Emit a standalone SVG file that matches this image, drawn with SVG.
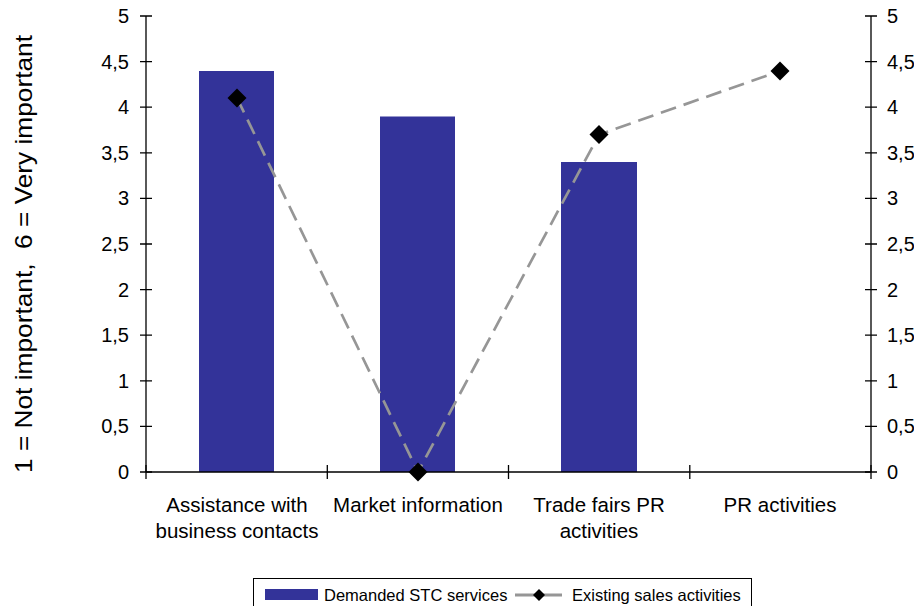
<svg xmlns="http://www.w3.org/2000/svg" width="914" height="606" viewBox="0 0 914 606">
<style>
text{font-family:"Liberation Sans",Arial,sans-serif;fill:#000}
.ax{stroke:#000;stroke-width:1.3;fill:none}
.tl{font-size:20px;text-anchor:end}
.tr{font-size:20px;text-anchor:start}
.cat{font-size:20.5px;text-anchor:middle}
.bar{fill:#333399}
.ln{stroke:#969696;stroke-width:2.7;fill:none;stroke-dasharray:16 8}
.lg{font-size:16.5px}
</style>
<defs>
<path id="dm" d="M0,-9.5 L9.5,0 L0,9.5 L-9.5,0 Z" fill="#000"/>
</defs>
<rect width="914" height="606" fill="#fff"/>
<g id="bars">
<rect class="bar" x="199" y="71" width="75" height="401"/>
<rect class="bar" x="380" y="116.5" width="75" height="355.5"/>
<rect class="bar" x="561" y="162" width="76" height="310"/>
</g>
<g id="axes">
<path class="ax" d="M146,16V472M871,16V472M146,472H871"/>
<path class="ax" d="M140,16H152M140,61.6H152M140,107.2H152M140,152.8H152M140,198.4H152M140,244H152M140,289.6H152M140,335.2H152M140,380.8H152M140,426.4H152M140,472H152"/>
<path class="ax" d="M865,16H877M865,61.6H877M865,107.2H877M865,152.8H877M865,198.4H877M865,244H877M865,289.6H877M865,335.2H877M865,380.8H877M865,426.4H877M865,472H877"/>
<path class="ax" d="M146,465V479M327.3,465V479M508.5,465V479M689.8,465V479M871,465V479"/>
</g>
<g id="left-labels">
<text class="tl" x="129" y="23">5</text>
<text class="tl" x="129" y="68.6">4,5</text>
<text class="tl" x="129" y="114.2">4</text>
<text class="tl" x="129" y="159.8">3,5</text>
<text class="tl" x="129" y="205.4">3</text>
<text class="tl" x="129" y="251">2,5</text>
<text class="tl" x="129" y="296.6">2</text>
<text class="tl" x="129" y="342.2">1,5</text>
<text class="tl" x="129" y="387.8">1</text>
<text class="tl" x="129" y="433.4">0,5</text>
<text class="tl" x="129" y="479">0</text>
</g>
<g id="right-labels">
<text class="tr" x="887" y="23">5</text>
<text class="tr" x="887" y="68.6">4,5</text>
<text class="tr" x="887" y="114.2">4</text>
<text class="tr" x="887" y="159.8">3,5</text>
<text class="tr" x="887" y="205.4">3</text>
<text class="tr" x="887" y="251">2,5</text>
<text class="tr" x="887" y="296.6">2</text>
<text class="tr" x="887" y="342.2">1,5</text>
<text class="tr" x="887" y="387.8">1</text>
<text class="tr" x="887" y="433.4">0,5</text>
<text class="tr" x="887" y="479">0</text>
</g>
<g id="categories">
<text class="cat" x="237" y="512">Assistance with</text>
<text class="cat" x="237" y="538">business contacts</text>
<text class="cat" x="418" y="512">Market information</text>
<text class="cat" x="599" y="512">Trade fairs PR</text>
<text class="cat" x="599" y="538">activities</text>
<text class="cat" x="780" y="512">PR activities</text>
</g>
<g id="title">
<text x="0" y="0" font-size="24" text-anchor="middle" textLength="438" lengthAdjust="spacingAndGlyphs" transform="translate(32,254) rotate(-90)" xml:space="preserve">1 = Not important,  6 = Very important</text>
</g>
<g id="connectors">
<polyline class="ln" points="237,98 418,472 599,134.6 780,71"/>
</g>
<g id="markers">
<use href="#dm" x="237" y="98"/>
<use href="#dm" x="418" y="472"/>
<use href="#dm" x="599" y="134.6"/>
<use href="#dm" x="780" y="71"/>
</g>
<g id="legend">
<rect x="253.5" y="578.5" width="498" height="30" fill="#fff" stroke="#000" stroke-width="1"/>
<rect x="265" y="589" width="53" height="11" fill="#333399"/>
<text class="lg" x="324" y="601">Demanded STC services</text>
<line x1="515" y1="595" x2="562" y2="595" stroke="#969696" stroke-width="3"/>
<path d="M539,589 L545,595 L539,601 L533,595 Z" fill="#000"/>
<text class="lg" x="572" y="601">Existing sales activities</text>
</g>
</svg>
